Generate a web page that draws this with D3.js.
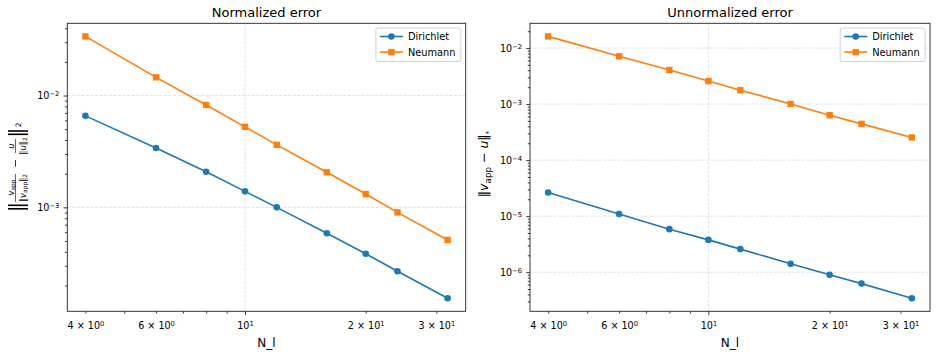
<!DOCTYPE html>
<html>
<head>
<meta charset="utf-8">
<script src="https://cdn.jsdelivr.net/npm/d3@7"></script>
<style>
  body { margin: 0; background: #fff; }
  text { font-family: "DejaVu Sans", sans-serif; fill: #000; }
</style>
</head>
<body>
<svg id="fig" width="937" height="356"></svg>
<script>
// values (log-log convergence plot)
const nl = [4, 6, 8, 10, 12, 16, 20, 24, 32];
const normDirichlet = [0.00658, 0.0034, 0.00208, 0.00139, 0.001, 0.000586, 0.000385, 0.000268, 0.000154];
const normNeumann = [0.0338, 0.01455, 0.00824, 0.00525, 0.00362, 0.00206, 0.001315, 0.000902, 0.000511];
const unnormDirichlet = [2.64e-5, 1.09e-5, 5.86e-6, 3.77e-6, 2.58e-6, 1.41e-6, 8.96e-7, 6.25e-7, 3.43e-7];
const unnormNeumann = [0.01615, 0.00711, 0.00406, 0.00258, 0.001766, 0.001007, 0.000633, 0.000443, 0.000254];
const xLabeled = [4, 6, 10, 20, 30];
const seriesNames = ["Dirichlet", "Neumann"];
const titles = ["Normalized error", "Unnormalized error"];

const blue = "#1f77b4", orange = "#ff7f0e";
const svg = d3.select("#fig");

// matplotlib-like 5% margin in log space
function logPad(vals) {
  const lo = Math.log10(d3.min(vals)), hi = Math.log10(d3.max(vals));
  const m = (hi - lo) * 0.05;
  return [10 ** (lo - m), 10 ** (hi + m)];
}

function logTicks(domain) {
  const major = [], all = [];
  const [a, b] = domain;
  for (let e = Math.floor(Math.log10(a)); e <= Math.ceil(Math.log10(b)); e++) {
    for (let k = 1; k <= 9; k++) {
      const v = +(k * 10 ** e).toPrecision(6);
      if (v >= a && v <= b) {
        all.push(v);
        if (k === 1) major.push(v);
      }
    }
  }
  return { major, all };
}

function supLabel(t, base, exp) {
  t.text(null);
  t.append("tspan").text(base);
  t.append("tspan").attr("dy", "-0.45em").attr("font-size", "70%").text(exp);
}

function panel(box, title, series) {
  const g = svg.append("g");
  const x = d3.scaleLog().domain(logPad(nl)).range([box.x0, box.x1]);
  const y = d3.scaleLog().domain(logPad(series.flatMap(s => s.values))).range([box.y1, box.y0]);
  const xt = logTicks(x.domain()), yt = logTicks(y.domain());

  // grid on major ticks
  const grid = g.append("g").attr("stroke", "#b0b0b0").attr("stroke-opacity", 0.45)
    .attr("stroke-width", 0.8).attr("stroke-dasharray", "3.2,1.4");
  grid.selectAll(".gx").data(xt.major).join("line")
    .attr("x1", d => x(d)).attr("x2", d => x(d)).attr("y1", box.y0).attr("y2", box.y1);
  grid.selectAll(".gy").data(yt.major).join("line")
    .attr("y1", d => y(d)).attr("y2", d => y(d)).attr("x1", box.x0).attr("x2", box.x1);

  // series
  const line = d3.line().x((d, i) => x(nl[i])).y(d => y(d));
  series.forEach(s => {
    g.append("path").attr("d", line(s.values)).attr("fill", "none")
      .attr("stroke", s.color).attr("stroke-width", 1.6);
    if (s.marker === "o") {
      g.selectAll(null).data(s.values).join("circle")
        .attr("cx", (d, i) => x(nl[i])).attr("cy", d => y(d)).attr("r", 3.3).attr("fill", s.color);
    } else {
      g.selectAll(null).data(s.values).join("rect")
        .attr("x", (d, i) => x(nl[i]) - 3.2).attr("y", d => y(d) - 3.2)
        .attr("width", 6.4).attr("height", 6.4).attr("fill", s.color);
    }
  });

  // x axis
  const gx = g.append("g").attr("transform", `translate(0,${box.y1})`)
    .call(d3.axisBottom(x).tickValues(xt.all).tickSizeOuter(0))
    .attr("font-size", 9.6).attr("font-family", "DejaVu Sans");
  gx.select(".domain").remove();
  gx.selectAll(".tick line").attr("y2", d => xt.major.includes(d) ? 3.8 : 2.2)
    .attr("stroke", "#222").attr("stroke-width", 0.9);
  gx.selectAll(".tick text").attr("y", 10.5).attr("fill", "#000").each(function (d) {
    const t = d3.select(this);
    if (!xLabeled.includes(d)) { t.text(""); return; }
    const e = Math.floor(Math.log10(d) + 1e-9);
    const m = Math.round(d / 10 ** e);
    supLabel(t, m === 1 ? "10" : m + " × 10", String(e));
  });

  // y axis
  const gy = g.append("g").attr("transform", `translate(${box.x0},0)`)
    .call(d3.axisLeft(y).tickValues(yt.all).tickSizeOuter(0))
    .attr("font-size", 9.6).attr("font-family", "DejaVu Sans");
  gy.select(".domain").remove();
  gy.selectAll(".tick line").attr("x2", d => yt.major.includes(d) ? -3.8 : -2.2)
    .attr("stroke", "#222").attr("stroke-width", 0.9);
  gy.selectAll(".tick text").attr("x", -8).attr("fill", "#000").each(function (d) {
    const t = d3.select(this);
    if (!yt.major.includes(d)) { t.text(""); return; }
    supLabel(t, "10", "\u2212" + Math.round(-Math.log10(d)));
  });

  // frame
  g.append("rect").attr("x", box.x0).attr("y", box.y0)
    .attr("width", box.x1 - box.x0).attr("height", box.y1 - box.y0)
    .attr("fill", "none").attr("stroke", "#222").attr("stroke-width", 0.9);

  // titles
  g.append("text").attr("x", (box.x0 + box.x1) / 2).attr("y", 17.3)
    .attr("text-anchor", "middle").attr("font-size", 13).text(title);
  g.append("text").attr("x", (box.x0 + box.x1) / 2).attr("y", 347)
    .attr("text-anchor", "middle").attr("font-size", 12).text("N_l");

  // legend
  const lw = 85, lh = 33.4;
  const lg = g.append("g").attr("transform", `translate(${box.x1 - 4.8 - lw},${box.y0 + 4.8})`);
  lg.append("rect").attr("width", lw).attr("height", lh).attr("rx", 2)
    .attr("fill", "#fff").attr("fill-opacity", 0.8).attr("stroke", "#cccccc").attr("stroke-width", 0.9);
  series.forEach((s, i) => {
    const cy = 8.4 + i * 15.6;
    lg.append("line").attr("x1", 4).attr("x2", 27).attr("y1", cy).attr("y2", cy)
      .attr("stroke", s.color).attr("stroke-width", 1.6);
    if (s.marker === "o") lg.append("circle").attr("cx", 15.5).attr("cy", cy).attr("r", 3.3).attr("fill", s.color);
    else lg.append("rect").attr("x", 12.3).attr("y", cy - 3.2).attr("width", 6.4).attr("height", 6.4).attr("fill", s.color);
    lg.append("text").attr("x", 32).attr("y", cy).attr("dy", "0.35em").attr("font-size", 9.8).text(s.name);
  });
  return g;
}

const left = { x0: 67.3, x1: 465.7, y0: 23.3, y1: 311.3 };
const right = { x0: 530, x1: 930, y0: 23.3, y1: 311.3 };

panel(left, titles[0], [
  { name: seriesNames[0], values: normDirichlet, color: blue, marker: "o" },
  { name: seriesNames[1], values: normNeumann, color: orange, marker: "s" }
]);
panel(right, titles[1], [
  { name: seriesNames[0], values: unnormDirichlet, color: blue, marker: "o" },
  { name: seriesNames[1], values: unnormNeumann, color: orange, marker: "s" }
]);

// left y label: || v_app/||v_app||_2 - u/||u||_2 ||^2  (rotated)
const yl = svg.append("g").attr("transform", "translate(18,165) rotate(-90)");
[-43.8, -40.3, 30.7, 34].forEach(bx => {
  yl.append("line").attr("x1", bx).attr("x2", bx).attr("y1", -10).attr("y2", 10)
    .attr("stroke", "#000").attr("stroke-width", 1.6);
});
function mathText(g, cx, base, parts, size) {
  const t = g.append("text").attr("x", cx).attr("y", base).attr("text-anchor", "middle").attr("font-size", size);
  let shift = 0;
  parts.forEach(p => {
    const sp = t.append("tspan").text(p.t);
    const target = p.sub ? size * 0.2 : 0;
    if (target !== shift) { sp.attr("dy", target - shift); shift = target; }
    if (p.sub) sp.attr("font-size", size * 0.7);
    if (p.it) sp.attr("font-style", "italic");
  });
  return t;
}
const fs = 8.4;
mathText(yl, -22.5, -4.5, [{ t: "v", it: true }, { t: "app", sub: true }], fs);
yl.append("line").attr("x1", -37).attr("x2", -9).attr("y1", -2.5).attr("y2", -2.5).attr("stroke", "#000").attr("stroke-width", 0.6);
mathText(yl, -23, 7.5, [{ t: "\u2016" }, { t: "v", it: true }, { t: "app", sub: true }, { t: "\u2016" }, { t: "2", sub: true }], fs);
yl.append("line").attr("x1", -1.7).attr("x2", 5).attr("y1", -2.5).attr("y2", -2.5).attr("stroke", "#000").attr("stroke-width", 0.8);
mathText(yl, 19, -4.5, [{ t: "u", it: true }], fs);
yl.append("line").attr("x1", 12).attr("x2", 26).attr("y1", -2.5).attr("y2", -2.5).attr("stroke", "#000").attr("stroke-width", 0.6);
mathText(yl, 19, 7.5, [{ t: "\u2016" }, { t: "u", it: true }, { t: "\u2016" }, { t: "2", sub: true }], fs);
yl.append("text").attr("x", 37.7).attr("y", 2.7).attr("font-size", 7.5).text("2");

// right y label: ||v_app - u||_*
const yr = svg.append("g").attr("transform", "translate(488,164) rotate(-90)");
const tr = yr.append("text").attr("text-anchor", "middle").attr("font-size", 12.5);
tr.append("tspan").text("\u2016");
tr.append("tspan").attr("font-style", "italic").text("v");
tr.append("tspan").attr("font-size", 8.75).attr("dy", 2.5).text("app");
tr.append("tspan").attr("dy", -2.5).text(" \u2212 ");
tr.append("tspan").attr("font-style", "italic").text("u");
tr.append("tspan").text("\u2016");
tr.append("tspan").attr("font-size", 7).attr("dy", 2.5).text("*");
</script>
</body>
</html>
